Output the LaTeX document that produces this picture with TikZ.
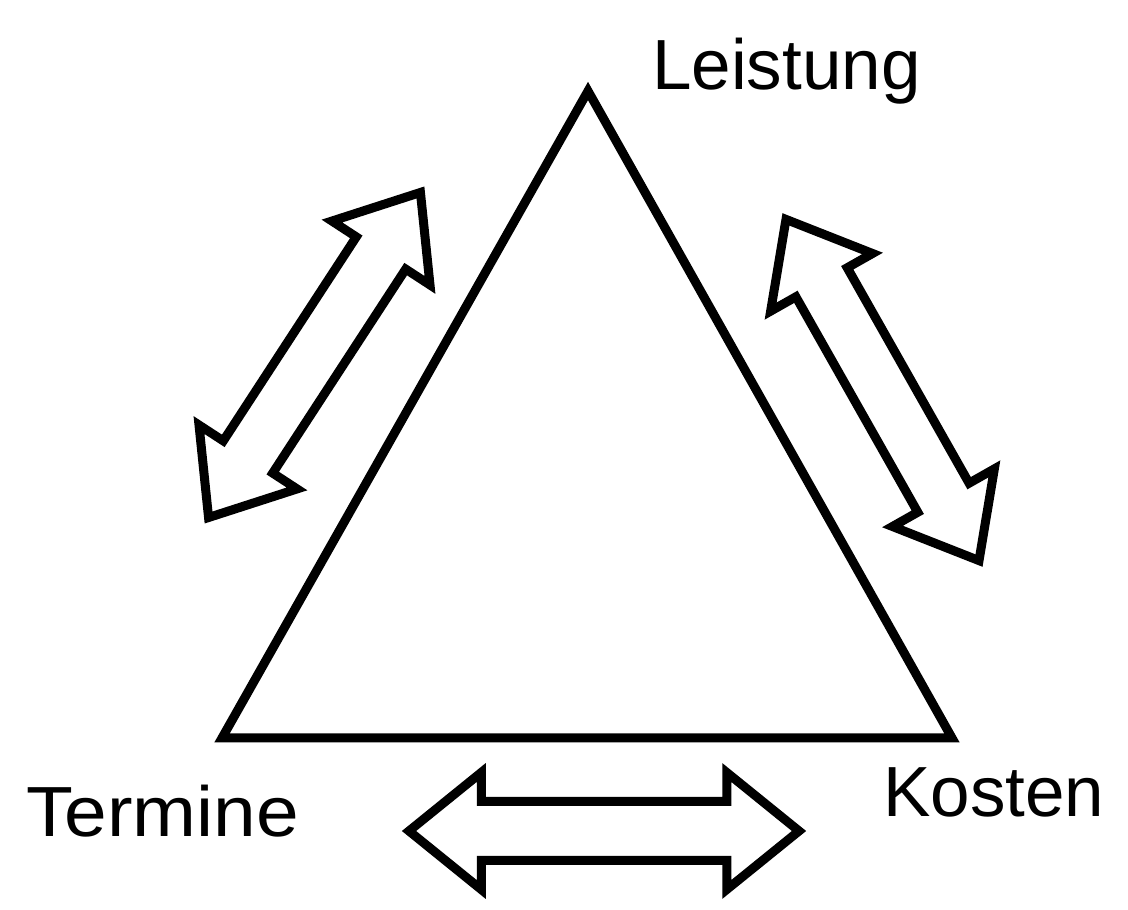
\documentclass[tikz,border=0pt]{standalone}
\usepackage{fontspec}
\setmainfont{Liberation Sans}
\usepackage{graphicx}
\usepackage{tikz}
\usetikzlibrary{shapes.arrows}

\begin{document}
\begin{tikzpicture}[x=1pt, y=1pt,
        % the three hollow arrows all look the same, only length and angle change
        dblarrow/.style={double arrow, draw, line width=9pt, inner sep=0pt,
            inner ysep=25pt, double arrow head extend=29pt,
            double arrow tip angle=78},
        corner/.style={anchor=base west, inner sep=0pt,
            font=\fontsize{71}{85}\selectfont}]
        \useasboundingbox (0,0) rectangle (1128,910);

        % corners of the triangle
        \coordinate (top) at (588,819);
        \coordinate (left) at (222,172);
        \coordinate (right) at (952,172);
        \draw[line width=9pt] (top) -- (left) -- (right) -- cycle;

        % the labels sit next to the corners
        % (Termine is a bit wider in the original, so stretch it)
        \node[corner] (leistung) at (652,820) {Leistung};
        \node[corner] (termine) at (26,73) {\scalebox{1.08}[1]{Termine}};
        \node[corner] (kosten) at (883,93) {Kosten};

        % minimum height is the length from tip to tip
        \node[dblarrow, minimum height=388pt, rotate=56.9] (lt) at (314.5,555) {};
        \node[dblarrow, minimum height=392pt, rotate=119.5] (lk) at (882.5,520) {};
        \node[dblarrow, minimum height=390pt] (tk) at (604,79) {};
    \end{tikzpicture}
\end{document}
